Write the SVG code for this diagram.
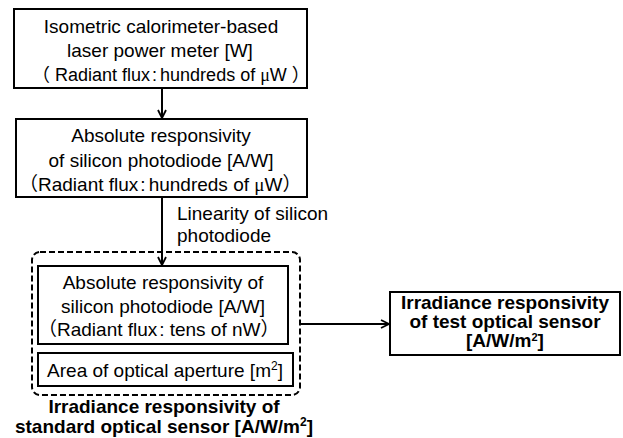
<svg xmlns="http://www.w3.org/2000/svg" width="623" height="438" viewBox="0 0 623 438">
  <style>
    .box { fill: #fff; stroke: #000; stroke-width: 2; }
    .t { font-family: "Liberation Sans", "Noto Sans CJK JP", sans-serif; font-size: 19px; fill: #000; text-anchor: middle; }
    .s { text-anchor: start; }
    .b { font-family: "Liberation Sans", "Noto Sans CJK JP", sans-serif; font-size: 19px; font-weight: bold; fill: #000; text-anchor: middle; }
    .mu { font-family: "Liberation Serif", serif; }
    .line { fill: none; stroke: #000; stroke-width: 2; }
  </style>
  <defs>
    <marker id="arrow" viewBox="0 0 10 10" refX="9" refY="5" markerWidth="10" markerHeight="10" markerUnits="userSpaceOnUse" orient="auto">
      <path d="M1,1 L9,5 L1,9" fill="none" stroke="#000" stroke-width="1.8"/>
    </marker>
  </defs>

  <rect width="623" height="438" fill="#fff"/>

  <!-- connectors -->
  <g id="connectors">
    <line class="line" x1="162" y1="88" x2="162" y2="118" marker-end="url(#arrow)"/>
    <line class="line" x1="162" y1="197" x2="162" y2="265" marker-end="url(#arrow)"/>
    <line class="line" x1="300" y1="324" x2="389" y2="324" marker-end="url(#arrow)"/>
    <text class="t s" x="177" y="220">Linearity of silicon</text>
    <text class="t s" x="177" y="242">photodiode</text>
  </g>

  <!-- calorimeter-based power meter -->
  <g id="power-meter">
    <rect class="box" x="14" y="9" width="293" height="79"/>
    <text class="t" x="161" y="33">Isometric calorimeter-based</text>
    <text class="t" x="160" y="57">laser power meter [W]</text>
    <text class="t s" x="32" y="81" style="font-size:18px">（ Radiant flux<tspan dx="2">:</tspan><tspan dx="3">hundreds of </tspan><tspan class="mu">μ</tspan>W ）</text>
  </g>

  <!-- photodiode at hundreds of microwatts -->
  <g id="photodiode-high">
    <rect class="box" x="16" y="119" width="291" height="78"/>
    <text class="t" x="161" y="142">Absolute responsivity</text>
    <text class="t" x="161" y="167">of silicon photodiode [A/W]</text>
    <text class="t s" x="19" y="191">（Radiant flux<tspan dx="2">:</tspan><tspan dx="3">hundreds of </tspan><tspan class="mu">μ</tspan>W）</text>
  </g>

  <!-- standard optical sensor -->
  <g id="standard-sensor">
    <rect x="32" y="252" width="268" height="143" rx="8" ry="8" fill="none" stroke="#000" stroke-width="2" stroke-dasharray="6,3"/>
    <g id="photodiode-low">
      <rect class="box" x="38" y="266" width="250" height="78"/>
      <text class="t" x="163" y="289">Absolute responsivity of</text>
      <text class="t" x="163" y="313">silicon photodiode [A/W]</text>
      <text class="t s" x="38" y="336">（Radiant flux<tspan dx="2">:</tspan><tspan dx="5">tens of nW</tspan>）</text>
    </g>
    <g id="aperture">
      <rect class="box" x="38" y="353" width="255" height="33"/>
      <text class="t" x="165" y="377">Area of optical aperture [m<tspan font-size="12" dy="-7">2</tspan><tspan dy="7">]</tspan></text>
    </g>
    <text class="b" x="164" y="413">Irradiance responsivity of</text>
    <text class="b" x="164" y="433">standard optical sensor [A/W/m<tspan font-size="12" dy="-7">2</tspan><tspan dy="7">]</tspan></text>
  </g>

  <!-- test optical sensor -->
  <g id="test-sensor">
    <rect class="box" x="390" y="292" width="230" height="63"/>
    <text class="b" x="505" y="309">Irradiance responsivity</text>
    <text class="b" x="505" y="328">of test optical sensor</text>
    <text class="b" x="505" y="347">[A/W/m<tspan font-size="11" dy="-6">2</tspan><tspan dy="6">]</tspan></text>
  </g>
</svg>
